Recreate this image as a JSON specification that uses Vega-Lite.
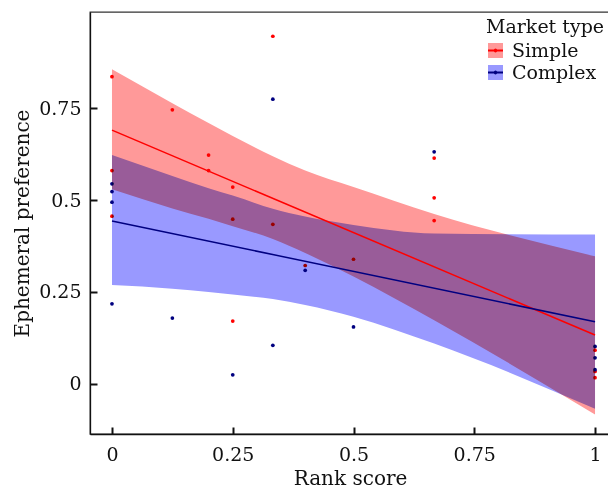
{
  "$schema": "https://vega.github.io/schema/vega-lite/v6.json",
  "width": 520,
  "height": 422,
  "autosize": {"type": "none"},
  "padding": {"left": 90, "top": 12, "right": 0, "bottom": 57},
  "config": {
    "font": "DejaVu Serif",
    "view": {"stroke": "#333", "strokeWidth": 1.3},
    "axis": {
      "grid": false,
      "domainColor": "#111",
      "domainWidth": 1.3,
      "tickColor": "#111",
      "tickWidth": 2,
      "tickSize": -7,
      "labelFont": "DejaVu Serif",
      "labelFontSize": 19,
      "labelColor": "#111",
      "titleFont": "DejaVu Serif",
      "titleFontSize": 20,
      "titleFontWeight": "normal",
      "titleColor": "#111"
    }
  },
  "datasets": {
    "pts": [
      {"type": "Simple", "x": 0, "y": 0.835},
      {"type": "Simple", "x": 0, "y": 0.58},
      {"type": "Simple", "x": 0, "y": 0.456},
      {"type": "Simple", "x": 0.125, "y": 0.745},
      {"type": "Simple", "x": 0.2, "y": 0.622},
      {"type": "Simple", "x": 0.2, "y": 0.58},
      {"type": "Simple", "x": 0.25, "y": 0.535},
      {"type": "Simple", "x": 0.25, "y": 0.448},
      {"type": "Simple", "x": 0.25, "y": 0.171},
      {"type": "Simple", "x": 0.333, "y": 0.945},
      {"type": "Simple", "x": 0.333, "y": 0.434},
      {"type": "Simple", "x": 0.4, "y": 0.322},
      {"type": "Simple", "x": 0.5, "y": 0.339},
      {"type": "Simple", "x": 0.667, "y": 0.614},
      {"type": "Simple", "x": 0.667, "y": 0.506},
      {"type": "Simple", "x": 0.667, "y": 0.444},
      {"type": "Simple", "x": 1, "y": 0.092},
      {"type": "Simple", "x": 1, "y": 0.034},
      {"type": "Simple", "x": 1, "y": 0.017},
      {"type": "Complex", "x": 0, "y": 0.544},
      {"type": "Complex", "x": 0, "y": 0.523},
      {"type": "Complex", "x": 0, "y": 0.494},
      {"type": "Complex", "x": 0, "y": 0.218},
      {"type": "Complex", "x": 0.125, "y": 0.179},
      {"type": "Complex", "x": 0.25, "y": 0.025},
      {"type": "Complex", "x": 0.333, "y": 0.774},
      {"type": "Complex", "x": 0.333, "y": 0.105},
      {"type": "Complex", "x": 0.4, "y": 0.309},
      {"type": "Complex", "x": 0.5, "y": 0.155},
      {"type": "Complex", "x": 0.667, "y": 0.631},
      {"type": "Complex", "x": 1, "y": 0.102},
      {"type": "Complex", "x": 1, "y": 0.071},
      {"type": "Complex", "x": 1, "y": 0.039}
    ],
    "bands": [
      {"type": "Simple", "x": 0, "lo": 0.529, "hi": 0.855},
      {"type": "Simple", "x": 0.125, "lo": 0.477, "hi": 0.763},
      {"type": "Simple", "x": 0.2, "lo": 0.449, "hi": 0.709},
      {"type": "Simple", "x": 0.25, "lo": 0.429, "hi": 0.674},
      {"type": "Simple", "x": 0.333, "lo": 0.394, "hi": 0.619},
      {"type": "Simple", "x": 0.4, "lo": 0.356, "hi": 0.58},
      {"type": "Simple", "x": 0.5, "lo": 0.292, "hi": 0.535},
      {"type": "Simple", "x": 0.667, "lo": 0.173, "hi": 0.462},
      {"type": "Simple", "x": 1, "lo": -0.083, "hi": 0.347},
      {"type": "Complex", "x": 0, "lo": 0.269, "hi": 0.622},
      {"type": "Complex", "x": 0.125, "lo": 0.259, "hi": 0.565},
      {"type": "Complex", "x": 0.2, "lo": 0.25, "hi": 0.532},
      {"type": "Complex", "x": 0.25, "lo": 0.243, "hi": 0.512},
      {"type": "Complex", "x": 0.333, "lo": 0.231, "hi": 0.476},
      {"type": "Complex", "x": 0.4, "lo": 0.215, "hi": 0.455},
      {"type": "Complex", "x": 0.5, "lo": 0.183, "hi": 0.432},
      {"type": "Complex", "x": 0.667, "lo": 0.11, "hi": 0.409},
      {"type": "Complex", "x": 1, "lo": -0.067, "hi": 0.406}
    ],
    "lines": [
      {"type": "Simple", "x": 0, "y": 0.69},
      {"type": "Simple", "x": 1, "y": 0.133},
      {"type": "Complex", "x": 0, "y": 0.443},
      {"type": "Complex", "x": 1, "y": 0.169}
    ]
  },
  "layer": [
    {
      "data": {"name": "pts"},
      "mark": {"type": "circle", "size": 14, "opacity": 1},
      "encoding": {
        "x": {
          "field": "x", "type": "quantitative",
          "scale": {"domain": [-0.0455, 1.031], "nice": false, "zero": false},
          "axis": {"values": [0, 0.25, 0.5, 0.75, 1], "format": ".2~f", "title": "Rank score", "labelPadding": 18, "titlePadding": 4}
        },
        "y": {
          "field": "y", "type": "quantitative",
          "scale": {"domain": [-0.1359, 1.0109], "nice": false, "zero": false},
          "axis": {"values": [0, 0.25, 0.5, 0.75], "format": ".2~f", "title": "Ephemeral preference", "labelPadding": 16, "titlePadding": 6}
        },
        "color": {
          "field": "type", "type": "nominal",
          "scale": {"domain": ["Simple", "Complex"], "range": ["#ff0000", "#000080"]},
          "legend": null
        }
      }
    },
    {
      "data": {"name": "bands"},
      "mark": {"type": "area", "blend": "multiply", "opacity": 1, "interpolate": "monotone"},
      "encoding": {
        "x": {"field": "x", "type": "quantitative"},
        "y": {"field": "lo", "type": "quantitative"},
        "y2": {"field": "hi"},
        "fill": {
          "field": "type", "type": "nominal", "sort": "descending",
          "scale": {"range": ["#ff9999", "#9999ff"]},
          "legend": {
            "title": "Market type", "orient": "none", "legendX": 396, "legendY": 6,
            "symbolType": "square", "symbolSize": 225, "symbolStrokeWidth": 0, "symbolOpacity": 1,
            "labelFont": "DejaVu Serif", "labelFontSize": 19, "labelColor": "#111", "labelOffset": 7,
            "titleFont": "DejaVu Serif", "titleFontSize": 19, "titleFontWeight": "normal", "titleColor": "#111",
            "titlePadding": 4, "rowPadding": 2, "padding": 0
          }
        }
      }
    },
    {
      "data": {"name": "lines"},
      "mark": {"type": "line", "strokeWidth": 1.5},
      "encoding": {
        "x": {"field": "x", "type": "quantitative"},
        "y": {"field": "y", "type": "quantitative"},
        "stroke": {
          "field": "type", "type": "nominal", "sort": "descending",
          "scale": {"range": ["#ff0000", "#000080"]},
          "legend": {
            "title": null, "orient": "none", "legendX": 396, "legendY": 29,
            "symbolType": "M-1,0H1M-0.12,0A0.12,0.12 0 1,1 0.12,0A0.12,0.12 0 1,1 -0.12,0",
            "symbolSize": 225, "symbolStrokeWidth": 2, "symbolFillColor": "transparent", "symbolOpacity": 1,
            "labelExpr": "''", "labelFontSize": 19, "labelOffset": 7, "rowPadding": 2, "padding": 0
          }
        }
      }
    }
  ]
}
